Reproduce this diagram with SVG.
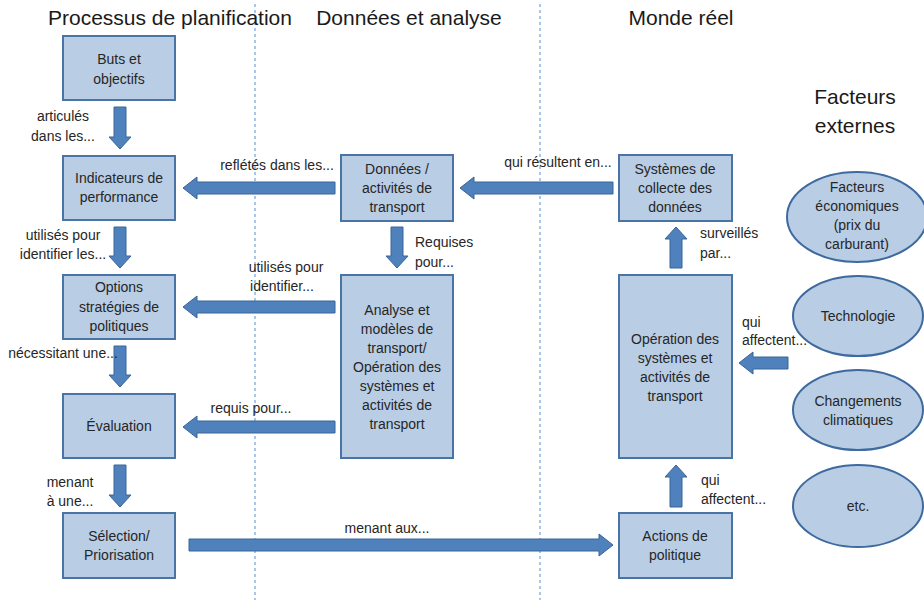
<svg xmlns="http://www.w3.org/2000/svg" width="924" height="602" viewBox="0 0 924 602">
<style>
  .bg{fill:#ffffff}
  .box{fill:#b9cde5;stroke:#4a73a6;stroke-width:2}
  .ell{fill:#b9cde5;stroke:#3f6aa0;stroke-width:2}
  .arr{fill:#4f81bd;stroke:#3b6497;stroke-width:1}
  .sep{stroke:#8eb4e3;stroke-width:1.5;stroke-dasharray:3 3;fill:none}
  text{font-family:"Liberation Sans",Arial,sans-serif;fill:#262626}
  .t{font-size:14px;text-anchor:middle}
  .l{font-size:14px}
  .lm{font-size:14px;text-anchor:middle}
  .h{font-size:21px;text-anchor:middle;fill:#1a1a1a}
</style>
<rect class="bg" x="0" y="0" width="924" height="602"/>

<g id="separators">
  <line class="sep" x1="255" y1="4" x2="255" y2="600"/>
  <line class="sep" x1="540" y1="4" x2="540" y2="600"/>
</g>

<g id="headers">
  <text class="h" x="170" y="25">Processus de planification</text>
  <text class="h" x="409" y="25">Données et analyse</text>
  <text class="h" x="681" y="25">Monde réel</text>
  <text class="h" x="855" y="104">Facteurs</text>
  <text class="h" x="855" y="133">externes</text>
</g>

<g id="connectors">
  <!-- left column down arrows -->
  <polygon class="arr" points="114,107 126,107 126,137 131,137 120,149 109,137 114,137"/>
  <polygon class="arr" points="114,227 126,227 126,256 131,256 120,268 109,256 114,256"/>
  <polygon class="arr" points="114,346 126,346 126,375 131,375 120,387 109,375 114,375"/>
  <polygon class="arr" points="114,465 126,465 126,495 131,495 120,507 109,495 114,495"/>
  <!-- left-pointing arrows from middle column -->
  <polygon class="arr" points="183,188 197,177 197,182 335,182 335,194 197,194 197,199"/>
  <polygon class="arr" points="183,307 197,296 197,301 335,301 335,313 197,313 197,318"/>
  <polygon class="arr" points="183,427 197,416 197,421 335,421 335,433 197,433 197,438"/>
  <!-- qui résultent en -->
  <polygon class="arr" points="460,188 474,177 474,182 613,182 613,194 474,194 474,199"/>
  <!-- Données down to Analyse -->
  <polygon class="arr" points="391,227 403,227 403,256 408,256 397,268 386,256 391,256"/>
  <!-- menant aux -->
  <polygon class="arr" points="189,539 599,539 599,534 613,545 599,556 599,551 189,551"/>
  <!-- up arrows right column -->
  <polygon class="arr" points="670,268 682,268 682,239 687,239 676,227 665,239 670,239"/>
  <polygon class="arr" points="670,507 682,507 682,477 687,477 676,465 665,477 670,477"/>
  <!-- qui affectent from external factors -->
  <polygon class="arr" points="739,363 753,352 753,357 788,357 788,369 753,369 753,374"/>
</g>

<g id="labels">
  <text class="lm" x="63" y="121">articulés</text>
  <text class="lm" x="63" y="141">dans les...</text>
  <text class="lm" x="63" y="240">utilisés pour</text>
  <text class="lm" x="63" y="259">identifier les...</text>
  <text class="lm" x="63" y="358">nécessitant une...</text>
  <text class="lm" x="70" y="487">menant</text>
  <text class="lm" x="70" y="506">à une...</text>
  <text class="lm" x="277" y="170">reflétés dans les...</text>
  <text class="lm" x="286" y="272">utilisés pour</text>
  <text class="lm" x="282" y="291">identifier...</text>
  <text class="lm" x="251" y="413">requis pour...</text>
  <text class="l" x="415" y="247">Requises</text>
  <text class="l" x="415" y="267">pour...</text>
  <text class="lm" x="558" y="167">qui résultent en...</text>
  <text class="l" x="700" y="238">surveillés</text>
  <text class="l" x="700" y="258">par...</text>
  <text class="l" x="742" y="327">qui</text>
  <text class="l" x="742" y="345">affectent...</text>
  <text class="l" x="701" y="485">qui</text>
  <text class="l" x="701" y="504">affectent...</text>
  <text class="lm" x="387" y="533">menant aux...</text>
</g>

<g id="buts">
  <rect class="box" x="63" y="36" width="112" height="64"/>
  <text class="t" x="119" y="64">Buts et</text>
  <text class="t" x="119" y="84">objectifs</text>
</g>
<g id="indicateurs">
  <rect class="box" x="63" y="156" width="112" height="64"/>
  <text class="t" x="119" y="183">Indicateurs de</text>
  <text class="t" x="119" y="202">performance</text>
</g>
<g id="options">
  <rect class="box" x="63" y="275" width="112" height="64"/>
  <text class="t" x="119" y="292">Options</text>
  <text class="t" x="119" y="312">stratégies de</text>
  <text class="t" x="119" y="331">politiques</text>
</g>
<g id="evaluation">
  <rect class="box" x="63" y="394" width="112" height="64"/>
  <text class="t" x="119" y="431">Évaluation</text>
</g>
<g id="selection">
  <rect class="box" x="63" y="513" width="112" height="65"/>
  <text class="t" x="119" y="541">Sélection/</text>
  <text class="t" x="119" y="560">Priorisation</text>
</g>

<g id="donnees">
  <rect class="box" x="341" y="155" width="112" height="66"/>
  <text class="t" x="397" y="174">Données /</text>
  <text class="t" x="397" y="193">activités de</text>
  <text class="t" x="397" y="212">transport</text>
</g>
<g id="analyse">
  <rect class="box" x="341" y="275" width="112" height="183"/>
  <text class="t" x="397" y="315">Analyse et</text>
  <text class="t" x="397" y="334">modèles de</text>
  <text class="t" x="397" y="353">transport/</text>
  <text class="t" x="397" y="372">Opération des</text>
  <text class="t" x="397" y="391">systèmes et</text>
  <text class="t" x="397" y="410">activités de</text>
  <text class="t" x="397" y="429">transport</text>
</g>

<g id="systemes">
  <rect class="box" x="619" y="155" width="113" height="66"/>
  <text class="t" x="675" y="174">Systèmes de</text>
  <text class="t" x="675" y="193">collecte des</text>
  <text class="t" x="675" y="212">données</text>
</g>
<g id="operation">
  <rect class="box" x="619" y="275" width="113" height="183"/>
  <text class="t" x="675" y="344">Opération des</text>
  <text class="t" x="675" y="363">systèmes et</text>
  <text class="t" x="675" y="382">activités de</text>
  <text class="t" x="675" y="401">transport</text>
</g>
<g id="actions">
  <rect class="box" x="619" y="513" width="113" height="65"/>
  <text class="t" x="675" y="541">Actions de</text>
  <text class="t" x="675" y="560">politique</text>
</g>

<g id="economiques">
  <ellipse class="ell" cx="857" cy="217" rx="70" ry="45"/>
  <text class="t" x="857" y="192">Facteurs</text>
  <text class="t" x="857" y="211">économiques</text>
  <text class="t" x="857" y="230">(prix du</text>
  <text class="t" x="857" y="249">carburant)</text>
</g>
<g id="technologie">
  <ellipse class="ell" cx="858" cy="316" rx="65" ry="40"/>
  <text class="t" x="858" y="321">Technologie</text>
</g>
<g id="changements">
  <ellipse class="ell" cx="858" cy="410" rx="65" ry="40"/>
  <text class="t" x="858" y="406">Changements</text>
  <text class="t" x="858" y="425">climatiques</text>
</g>
<g id="etc">
  <ellipse class="ell" cx="858" cy="506" rx="65" ry="41"/>
  <text class="t" x="858" y="511">etc.</text>
</g>
</svg>
